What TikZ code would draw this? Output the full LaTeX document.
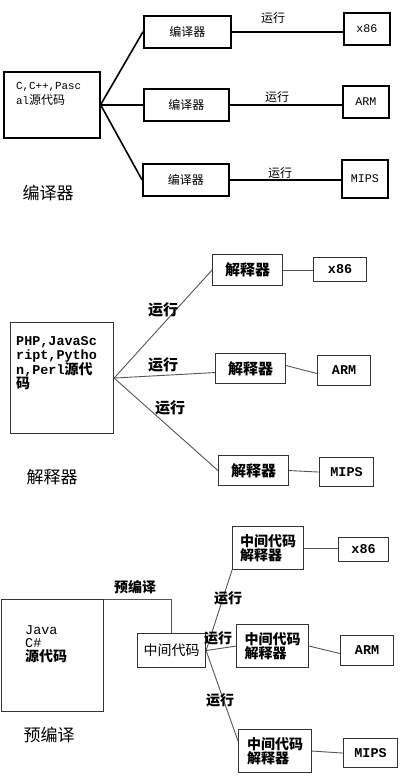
\documentclass[tikz,border=0pt]{standalone}
\usepackage{fontspec}
\setmainfont{Noto Sans CJK SC}
\newfontfamily\lm[Scale=0.9]{Liberation Mono}
\newfontfamily\lmb[Scale=0.96]{Liberation Mono}
\definecolor{bordc}{HTML}{333333}
\definecolor{linec}{HTML}{555555}
\tikzset{
  boxA/.style={draw=black, line width=1.6pt, rectangle, inner sep=0pt, anchor=north west},
  boxB/.style={draw=bordc, line width=1.1pt, rectangle, inner sep=0pt, anchor=north west},
  conA/.style={draw=black, line width=1.6pt},
  conB/.style={draw=linec, line width=0.9pt},
  fA/.style={font=\fontsize{12}{15}\selectfont},
  fT/.style={font=\fontsize{13}{15}\selectfont},
  fB/.style={font=\fontsize{15}{15}\selectfont\bfseries},
  fC/.style={font=\fontsize{14}{14}\selectfont\bfseries},
  secl/.style={font=\fontsize{17}{17}\selectfont, inner sep=0pt},
  txt/.style={inner sep=0pt}
}
\begin{document}
\begin{tikzpicture}[x=1pt,y=-1pt]
\useasboundingbox (0,0) rectangle (400,783);
\fill[white] (0,0) rectangle (400,783);
% ---------- Section 1 ----------
\node[boxA, minimum width=96, minimum height=66] (src1) at (3,71) {};
\node[txt, fA, anchor=north west, align=left] (src1t) at (16,82) {{\lm C,C++,Pasc}\\{\lm al}源代码};
\node[boxA, fA, minimum width=87, minimum height=32] (c1) at (143,15) {编译器};
\node[boxA, fA, minimum width=85, minimum height=32] (c2) at (143,88) {编译器};
\node[boxA, fA, minimum width=86, minimum height=32] (c3) at (142,163) {编译器};
\node[boxA, fT, minimum width=46, minimum height=32] (t1) at (343,12) {\lm x86};
\node[boxA, fT, minimum width=46, minimum height=32] (t2) at (342,85) {\lm ARM};
\node[boxA, fT, minimum width=46, minimum height=38] (t3) at (341,159) {\lm MIPS};
\draw[conA] (src1.east) -- (c1.west);
\draw[conA] (src1.east) -- (c2.west);
\draw[conA] (src1.east) -- (c3.west);
\draw[conA] (c1.east) -- (c1.east -| t1.west);
\draw[conA] (c2.east) -- (c2.east -| t2.west);
\draw[conA] (c3.east) -- (c3.east -| t3.west);
\node[txt, fA] (r11) at (273,18) {运行};
\node[txt, fA] (r12) at (277,97) {运行};
\node[txt, fA] (r13) at (280,173) {运行};
\node[secl] (s1) at (48,193) {编译器};
% ---------- Section 2 ----------
\node[boxB, minimum width=103, minimum height=111] (src2) at (10,322) {};
\node[txt, fC, anchor=north west, align=left] (src2t) at (16,336) {{\lmb PHP,JavaSc}\\{\lmb ript,Pytho}\\{\lmb n,Perl}源代\\码};
\node[boxB, fB, minimum width=70, minimum height=31] (i1) at (212,254) {解释器};
\node[boxB, fB, minimum width=70, minimum height=30] (i2) at (215,353) {解释器};
\node[boxB, fB, minimum width=70, minimum height=30] (i3) at (218,455) {解释器};
\node[boxB, fC, minimum width=53, minimum height=24] (x2) at (313,257) {\lmb x86};
\node[boxB, fC, minimum width=53, minimum height=30] (a2) at (317,355) {\lmb ARM};
\node[boxB, fC, minimum width=54, minimum height=29] (m2) at (319,457) {\lmb MIPS};
\draw[conB] (src2.east) -- (i1.west);
\draw[conB] (src2.east) -- ([yshift=-4pt]i2.west);
\draw[conB] (src2.east) -- (i3.west);
\draw[conB] (i1.east) -- (i1.east -| x2.west);
\draw[conB] ([yshift=3pt]i2.east) -- ([yshift=-3pt]a2.west);
\draw[conB] (i3.east) -- (m2.west);
\node[txt, fB] (r21) at (163,310) {运行};
\node[txt, fB] (r22) at (163,365) {运行};
\node[txt, fB] (r23) at (170,408) {运行};
\node[secl] (s2) at (52,477) {解释器};
% ---------- Section 3 ----------
\node[boxB, minimum width=102, minimum height=112] (java) at (0.6,599) {};
\node[txt, font=\fontsize{14}{13.5}\selectfont, anchor=north west, align=left] (javat) at (25,625) {{\lmb Java}\\{\lmb C\#}\\\textbf{源代码}};
\node[boxB, font=\fontsize{14}{14}\selectfont, minimum width=68, minimum height=34] (mid) at (137,633) {中间代码};
\node[boxB, fC, align=left, minimum width=71, minimum height=43] (q1) at (232,526) {中间代码\\解释器};
\node[boxB, fC, align=left, minimum width=72, minimum height=43] (q2) at (236,624) {中间代码\\解释器};
\node[boxB, fC, align=left, minimum width=73, minimum height=43] (q3) at (238,729) {中间代码\\解释器};
\node[boxB, fC, minimum width=50, minimum height=24] (x3) at (338,537) {\lmb x86};
\node[boxB, fC, minimum width=53, minimum height=30] (a3) at (340,635) {\lmb ARM};
\node[boxB, fC, minimum width=54, minimum height=29] (m3) at (343,738) {\lmb MIPS};
\draw[conB] (java.north east) -| (mid.north);
\node[txt, fC] (pc) at (135,587) {预编译};
\draw[conB] (mid.east) -- (q1.south west);
\draw[conB] (mid.east) -- (q2.west);
\draw[conB] (mid.east) -- ([yshift=10pt]q3.west);
\draw[conB] (q1.east) -- (q1.east -| x3.west);
\draw[conB] (q2.east) -- ([yshift=-3pt]a3.west);
\draw[conB] (q3.east) -- (m3.west);
\node[txt, fC] (r31) at (228,598) {运行};
\node[txt, fC] (r32) at (218,638) {运行};
\node[txt, fC] (r33) at (220,700) {运行};
\node[secl] (s3) at (49,735) {预编译};
\end{tikzpicture}
\end{document}
